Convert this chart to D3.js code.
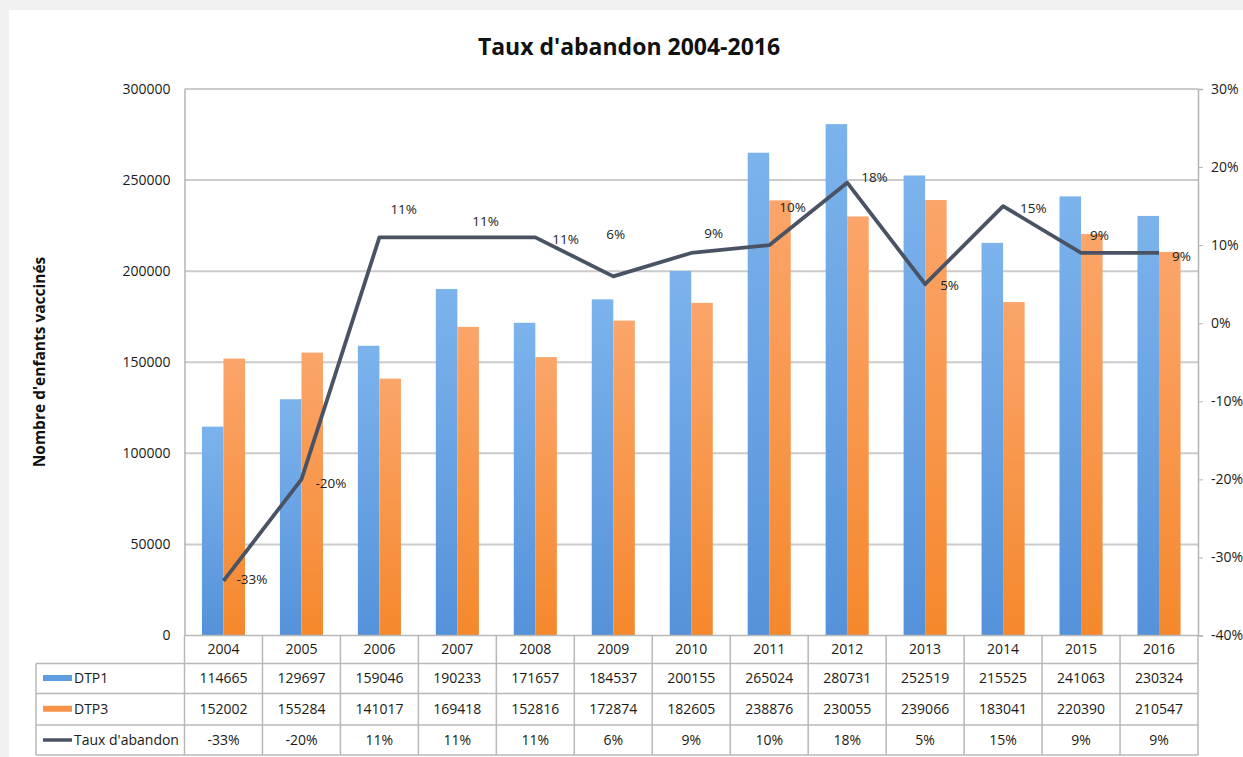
<!DOCTYPE html>
<html>
<head>
<meta charset="utf-8">
<script src="https://cdn.jsdelivr.net/npm/d3@7"></script>
<style>
  html, body { margin: 0; padding: 0; background: #f0f0f0; }
  svg { display: block; }
  text { font-family: "Open Sans", "DejaVu Sans", sans-serif; }
</style>
</head>
<body>
<svg id="chart" width="1243" height="757"></svg>
<script>
// ---- data ----
const years = ["2004","2005","2006","2007","2008","2009","2010","2011","2012","2013","2014","2015","2016"];
const dtp1 = [114665,129697,159046,190233,171657,184537,200155,265024,280731,252519,215525,241063,230324];
const dtp3 = [152002,155284,141017,169418,152816,172874,182605,238876,230055,239066,183041,220390,210547];
const taux = [-33,-20,11,11,11,6,9,10,18,5,15,9,9];
const seriesNames = ["DTP1","DTP3","Taux d'abandon"];
const leftTicks = [0,50000,100000,150000,200000,250000,300000];
const rightTicks = [-40,-30,-20,-10,0,10,20,30];

// label placement around each line point: [dx to text start, dy to text middle]
const labelOffsets = [[13,0],[14,5],[11,-27],[15,-15],[17,3],[-7,-41],[13,-19],[10,-37],[14,-4],[15,2],[17,3],[9,-17],[13,4]];

// ---- layout ----
const W = 1243, H = 757;
const plot = {left: 184.5, right: 1198, top: 89, bottom: 635.5};
const tableLeft = 36;
const rowEdges = [635.5, 663.5, 693.5, 725, 755];

const colors = {
  dtp1Top: "#7cb3ec", dtp1Bottom: "#5592da",
  dtp3Top: "#fba56a", dtp3Bottom: "#f5882c",
  line: "#4a5364", grid: "#cbcbcb", axis: "#b4b4b4", border: "#b8b8b8", text: "#1a1a1a"
};

const svg = d3.select("#chart");

// card
svg.append("rect").attr("x", 9).attr("y", 10).attr("width", W - 9).attr("height", H - 10).attr("fill", "#ffffff");

const defs = svg.append("defs");
function vGrad(id, top, bottom) {
  const g = defs.append("linearGradient").attr("id", id).attr("x1", 0).attr("y1", 0).attr("x2", 0).attr("y2", 1);
  g.append("stop").attr("offset", "0%").attr("stop-color", top);
  g.append("stop").attr("offset", "100%").attr("stop-color", bottom);
}
vGrad("gBlue", colors.dtp1Top, colors.dtp1Bottom);
vGrad("gOrange", colors.dtp3Top, colors.dtp3Bottom);

// scales
const x = d3.scaleBand().domain(years).range([plot.left, plot.right]).padding(0);
const xs = d3.scaleBand().domain(["DTP1","DTP3"]).range([0, x.bandwidth()]).paddingInner(0).paddingOuter(0.81);
const y = d3.scaleLinear().domain([0, 300000]).range([plot.bottom, plot.top]);
const y2 = d3.scaleLinear().domain([-40, 30]).range([plot.bottom, plot.top]);

// title
svg.append("text").attr("x", 629).attr("y", 55).attr("text-anchor", "middle")
  .attr("font-size", 23).attr("font-weight", "bold").attr("fill", "#111")
  .text("Taux d'abandon 2004-2016");

// y axis title
svg.append("text").attr("transform", "translate(45,362) rotate(-90)").attr("text-anchor", "middle")
  .attr("font-size", 15.5).attr("font-weight", "bold").attr("fill", "#111")
  .text("Nombre d'enfants vaccinés");

// gridlines
svg.append("g").selectAll("line").data(leftTicks.filter(d => d > 0)).join("line")
  .attr("x1", plot.left).attr("x2", plot.right)
  .attr("y1", d => y(d)).attr("y2", d => y(d))
  .attr("stroke", colors.grid).attr("stroke-width", 2);

// left axis
const leftAxis = svg.append("g").attr("transform", `translate(${plot.left},0)`)
  .call(d3.axisLeft(y).tickValues(leftTicks).tickFormat(d3.format("d")).tickSize(0).tickPadding(14));
leftAxis.select(".domain").attr("stroke", colors.axis).attr("stroke-width", 1.5);
leftAxis.selectAll("text").attr("font-size", 14).attr("fill", colors.text).attr("font-family", "'Open Sans', sans-serif");

// right axis
const rightAxis = svg.append("g").attr("transform", `translate(${plot.right},0)`)
  .call(d3.axisRight(y2).tickValues(rightTicks).tickFormat(d => d + "%").tickSize(5).tickPadding(8));
rightAxis.select(".domain").attr("stroke", colors.axis).attr("stroke-width", 1.5);
rightAxis.selectAll(".tick line").attr("stroke", colors.axis);
rightAxis.selectAll("text").attr("font-size", 14).attr("fill", colors.text).attr("font-family", "'Open Sans', sans-serif");

// bars
const bars = svg.append("g");
bars.selectAll("rect.dtp1").data(years).join("rect").attr("class", "dtp1")
  .attr("x", (d) => x(d) + xs("DTP1")).attr("width", xs.bandwidth())
  .attr("y", (d, i) => y(dtp1[i])).attr("height", (d, i) => y(0) - y(dtp1[i]))
  .attr("fill", "url(#gBlue)");
bars.selectAll("rect.dtp3").data(years).join("rect").attr("class", "dtp3")
  .attr("x", (d) => x(d) + xs("DTP3")).attr("width", xs.bandwidth())
  .attr("y", (d, i) => y(dtp3[i])).attr("height", (d, i) => y(0) - y(dtp3[i]))
  .attr("fill", "url(#gOrange)");

// dropout rate line
const line = d3.line().x((d, i) => x(years[i]) + x.bandwidth() / 2).y(d => y2(d));
svg.append("path").datum(taux).attr("d", line)
  .attr("fill", "none").attr("stroke", colors.line).attr("stroke-width", 3.8).attr("stroke-linejoin", "round");

// line labels
svg.append("g").selectAll("text").data(taux).join("text")
  .attr("x", (d, i) => x(years[i]) + x.bandwidth() / 2 + labelOffsets[i][0])
  .attr("y", (d, i) => y2(d) + labelOffsets[i][1])
  .attr("dominant-baseline", "middle")
  .attr("font-size", 13.5).attr("fill", "#222")
  .text(d => d + "%");

// ---- data table ----
const table = svg.append("g");
function hline(x1, x2, yy) {
  table.append("line").attr("x1", x1).attr("x2", x2).attr("y1", yy).attr("y2", yy)
    .attr("stroke", colors.border).attr("stroke-width", 1.5);
}
function vline(xx, y1, yy2) {
  table.append("line").attr("x1", xx).attr("x2", xx).attr("y1", y1).attr("y2", yy2)
    .attr("stroke", colors.border).attr("stroke-width", 1.5);
}
hline(plot.left, plot.right, rowEdges[0]);
rowEdges.slice(1).forEach(r => hline(tableLeft, plot.right, r));
vline(tableLeft, rowEdges[1], rowEdges[4]);
vline(plot.left, rowEdges[0], rowEdges[4]);
years.forEach(yr => vline(x(yr) + x.bandwidth(), rowEdges[0], rowEdges[4]));

const rowMid = i => (rowEdges[i] + rowEdges[i + 1]) / 2;
const cellRows = [years, dtp1.map(String), dtp3.map(String), taux.map(d => d + "%")];
cellRows.forEach((vals, r) => {
  table.append("g").selectAll("text").data(vals).join("text")
    .attr("x", (d, i) => x(years[i]) + x.bandwidth() / 2)
    .attr("y", rowMid(r) + 1)
    .attr("text-anchor", "middle").attr("dominant-baseline", "middle")
    .attr("font-size", 14).attr("fill", colors.text)
    .text(d => d);
});

// legend keys inside the table's first column
const keyX = 43, keyW = 29;
const keyFills = ["#5f9de2", "#f8944a"];
[0, 1].forEach(k => {
  table.append("rect").attr("x", keyX).attr("y", rowMid(k + 1) - 3.5).attr("width", keyW).attr("height", 6)
    .attr("fill", keyFills[k]);
});
table.append("line").attr("x1", keyX).attr("x2", keyX + keyW)
  .attr("y1", rowMid(3)).attr("y2", rowMid(3))
  .attr("stroke", colors.line).attr("stroke-width", 3.5);
seriesNames.forEach((name, k) => {
  table.append("text").attr("x", keyX + keyW + 2).attr("y", rowMid(k + 1) + 1)
    .attr("dominant-baseline", "middle").attr("font-size", 14).attr("fill", colors.text)
    .text(name);
});
</script>
</body>
</html>
